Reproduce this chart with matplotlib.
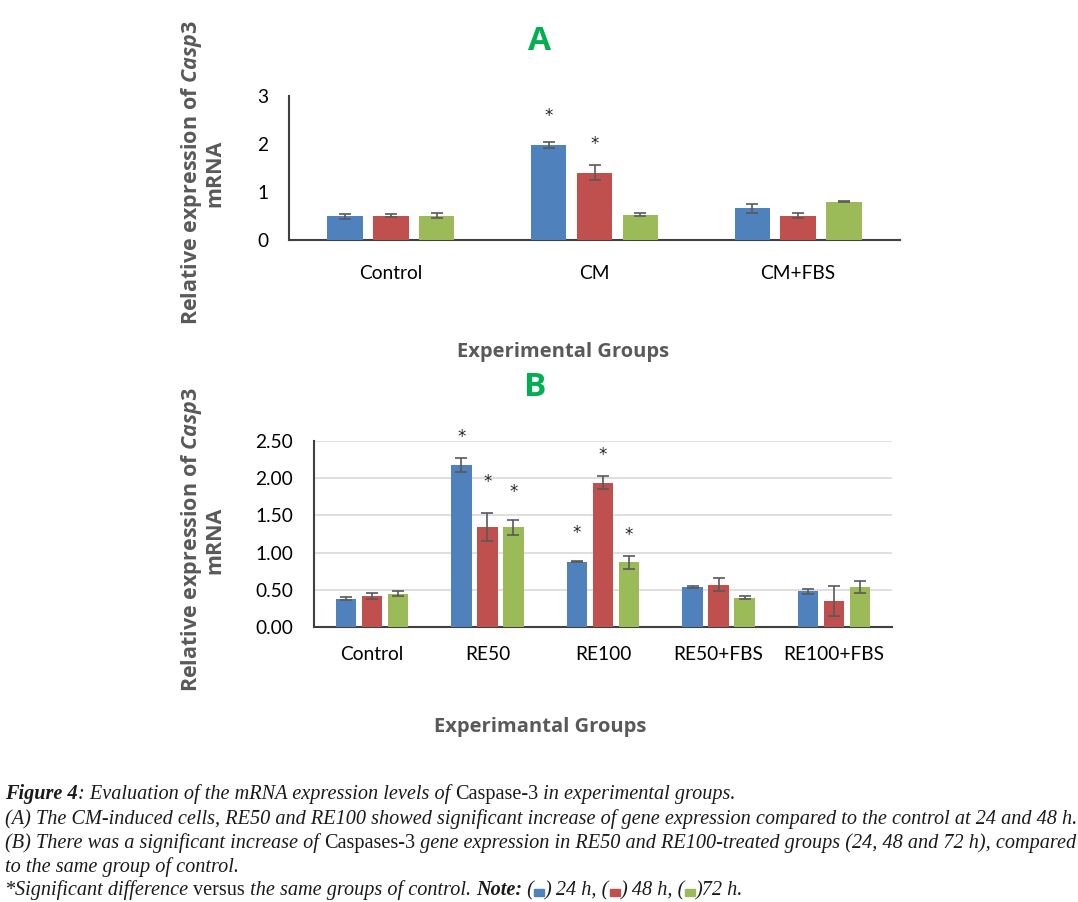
import numpy as np
import matplotlib
matplotlib.use('Agg')
import matplotlib.pyplot as plt
from matplotlib.patches import Rectangle

# Datos panel A
grupos_a = ['Control', 'CM', 'CM+FBS']
a_24 = [0.49, 1.98, 0.66]
a_48 = [0.51, 1.40, 0.51]
a_72 = [0.51, 0.53, 0.80]
a_24_err = [0.05, 0.07, 0.10]
a_48_err = [0.04, 0.16, 0.06]
a_72_err = [0.05, 0.03, 0.01]
# asteriscos (grupo, serie, altura)
a_star = [(1, 0, 2.58), (1, 1, 2.00)]

# Datos panel B
grupos_b = ['Control', 'RE50', 'RE100', 'RE50+FBS', 'RE100+FBS']
b_24 = [0.38, 2.18, 0.88, 0.54, 0.48]
b_48 = [0.42, 1.34, 1.94, 0.57, 0.35]
b_72 = [0.45, 1.34, 0.87, 0.39, 0.54]
b_24_err = [0.02, 0.09, 0.01, 0.01, 0.03]
b_48_err = [0.04, 0.19, 0.09, 0.09, 0.20]
b_72_err = [0.04, 0.10, 0.09, 0.02, 0.08]
b_star = [(1, 0, 2.56), (1, 1, 1.95), (1, 2, 1.82),
          (2, 0, 1.26), (2, 1, 2.31), (2, 2, 1.24)]

colores = ['#4F81BD', '#C0504D', '#9BBB59']
gris = '#595959'

plt.rcParams['mathtext.fontset'] = 'custom'
plt.rcParams['mathtext.it'] = 'Open Sans:italic:bold'
plt.rcParams['mathtext.rm'] = 'Open Sans:bold'

fig = plt.figure(figsize=(10.78, 9.02), dpi=100)
W, H = 1078, 902

def ejes(l, t, r, b):
    return fig.add_axes([l / W, 1 - b / H, (r - l) / W, (b - t) / H])

def barras(ax, grupos, series, errores, estrellas):
    x = np.arange(len(grupos))
    w = 0.175
    off = 0.225
    for k in range(3):
        ax.bar(x + (k - 1) * off, series[k], w, color=colores[k],
               yerr=errores[k], capsize=4,
               error_kw=dict(ecolor='#595959', elinewidth=1.2, capthick=1.2),
               zorder=3)
    for g, k, h in estrellas:
        ax.text(g + (k - 1) * off, h, '*', ha='center', va='center',
                fontsize=12, family='DejaVu Sans', color='#222222')
    ax.set_xticks(x)
    ax.set_xticklabels(grupos, fontsize=13.8, family='Lato')
    ax.set_xlim(-0.5, len(grupos) - 0.5)
    ax.tick_params(length=0)
    for s in ['top', 'right']:
        ax.spines[s].set_visible(False)
    for s in ['left', 'bottom']:
        ax.spines[s].set_color('#404040')
        ax.spines[s].set_linewidth(1.5)

# Panel A
axA = ejes(289, 96, 900, 240)
barras(axA, grupos_a, [a_24, a_48, a_72], [a_24_err, a_48_err, a_72_err], a_star)
axA.set_ylim(0, 3)
axA.set_yticks([0, 1, 2, 3])
axA.set_yticklabels(['0', '1', '2', '3'], family='Lato', fontsize=13.8)
axA.tick_params(axis='y', pad=15)
axA.tick_params(axis='x', pad=18)

# Panel B
axB = ejes(314, 441, 892, 627)
barras(axB, grupos_b, [b_24, b_48, b_72], [b_24_err, b_48_err, b_72_err], b_star)
axB.set_ylim(0, 2.5)
yt = np.arange(0, 2.51, 0.5)
axB.set_yticks(yt)
axB.set_yticklabels(['%.2f' % v for v in yt], family='Lato', fontsize=13.8)
axB.yaxis.grid(True, color='#D9D9D9', linewidth=1.2, zorder=0)
axB.set_axisbelow(True)
axB.tick_params(axis='y', pad=15)
axB.tick_params(axis='x', pad=14)

ylab = 'Relative expression of $\\mathit{Casp3}$\nmRNA'
fig.text(202 / W, 1 - 173 / H, ylab, rotation=90, ha='center', va='center',
         fontsize=15.5, family='Open Sans', weight='bold', color=gris,
         linespacing=1.05)
fig.text(202 / W, 1 - 540 / H, ylab, rotation=90, ha='center', va='center',
         fontsize=15.5, family='Open Sans', weight='bold', color=gris,
         linespacing=1.05)
fig.text(563 / W, 1 - 352 / H, 'Experimental Groups', ha='center', va='center',
         fontsize=14.5, family='Open Sans', weight='bold', color=gris)
fig.text(540 / W, 1 - 727 / H, 'Experimantal Groups', ha='center', va='center',
         fontsize=14.5, family='Open Sans', weight='bold', color=gris)
fig.text(540 / W, 1 - 42 / H, 'A', ha='center', va='center', fontsize=24,
         family='Open Sans', weight='bold', color='#00B050')
fig.text(535 / W, 1 - 388 / H, 'B', ha='center', va='center', fontsize=24,
         family='Open Sans', weight='bold', color='#00B050')

# Leyenda del pie de figura
renderer = fig.canvas.get_renderer()
fs = 14.6

def linea(x0, y0, partes):
    x = x0
    for txt, estilo, peso in partes:
        if txt is None:
            # cuadrito de color
            fig.patches.append(Rectangle((x / W, 1 - (y0 + 1) / H), 10 / W, 7 / H,
                                         color=estilo, transform=fig.transFigure,
                                         figure=fig))
            x += 11
            continue
        t = fig.text(x / W, 1 - y0 / H, txt, ha='left', va='baseline',
                     fontsize=fs, family='Liberation Serif', style=estilo,
                     weight=peso, color='#1a1a1a')
        bb = t.get_window_extent(renderer)
        x += bb.width

linea(5, 799, [('Figure 4', 'italic', 'bold'),
               (': Evaluation of the mRNA expression levels of ', 'italic', 'normal'),
               ('Caspase-3', 'normal', 'normal'),
               (' in experimental groups.', 'italic', 'normal')])
linea(5, 824, [('(A) The CM-induced cells, RE50 and RE100 showed significant increase of gene expression compared to the control at 24 and 48 h.', 'italic', 'normal')])
linea(5, 848, [('(B) There was a significant increase of ', 'italic', 'normal'),
               ('Caspases-3', 'normal', 'normal'),
               (' gene expression in RE50 and RE100-treated groups (24, 48 and 72 h), compared', 'italic', 'normal')])
linea(5, 872, [('to the same group of control.', 'italic', 'normal')])
linea(5, 895, [('*', 'normal', 'normal'),
               ('Significant difference ', 'italic', 'normal'),
               ('versus', 'normal', 'normal'),
               (' the same groups of control. ', 'italic', 'normal'),
               ('Note:', 'italic', 'bold'),
               (' (', 'italic', 'normal'), (None, colores[0], None),
               (') 24 h, (', 'italic', 'normal'), (None, colores[1], None),
               (') 48 h, (', 'italic', 'normal'), (None, colores[2], None),
               (')72 h.', 'italic', 'normal')])

fig.savefig('out.png', dpi=100)
